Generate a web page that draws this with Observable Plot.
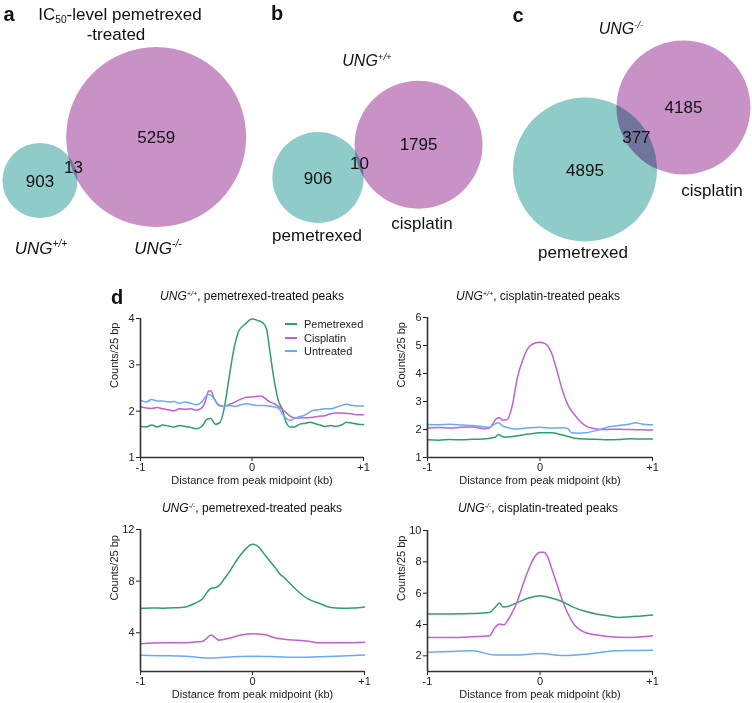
<!DOCTYPE html>
<html><head><meta charset="utf-8">
<script src="https://cdn.jsdelivr.net/npm/d3@7"></script>
<script src="https://cdn.jsdelivr.net/npm/@observablehq/plot@0.6"></script>
<style>
body{margin:0;background:#fff;}
#fig{position:relative;width:752px;height:703px;overflow:hidden;font-family:"Liberation Sans",Arial,sans-serif;color:#111;background:#fff;}
.pane{position:absolute;}
.lbl{position:absolute;transform:translate(-50%,-50%);white-space:nowrap;line-height:1;}
sup{font-size:0.6em;vertical-align:0.6em;line-height:0;}
sub{font-size:0.6em;vertical-align:-0.3em;line-height:0;}
</style></head><body><div id="fig"></div>
<script>
// ---------- Venn data ----------
const vennA_only = [903, 5259];   // UNG+/+ , UNG-/-  (IC50 pemetrexed)
const vennA_both = 13;
const vennB_only = [906, 1795];   // pemetrexed , cisplatin (UNG+/+)
const vennB_both = 10;
const vennC_only = [4895, 4185];  // pemetrexed , cisplatin (UNG-/-)
const vennC_both = 377;

// ---------- Profile data ----------
const seriesNames = ["Pemetrexed", "Cisplatin", "Untreated"];
const xTicks = [-1, 0, 1];

// UNG+/+, pemetrexed-treated peaks
const wtPem_pem = [[-1,1.67],[-0.95,1.66],[-0.9,1.70],[-0.85,1.66],[-0.8,1.70],[-0.75,1.68],[-0.7,1.66],[-0.65,1.69],[-0.6,1.67],[-0.55,1.65],[-0.5,1.62],[-0.45,1.67],[-0.4,1.83],[-0.37,1.84],[-0.33,1.72],[-0.29,1.75],[-0.25,2.05],[-0.21,2.65],[-0.16,3.37],[-0.12,3.72],[-0.06,3.88],[0,3.99],[0.05,3.96],[0.1,3.9],[0.13,3.78],[0.16,3.3],[0.2,2.65],[0.24,2.2],[0.27,2.05],[0.3,1.8],[0.34,1.66],[0.38,1.66],[0.43,1.72],[0.48,1.74],[0.52,1.76],[0.57,1.73],[0.61,1.70],[0.66,1.67],[0.7,1.69],[0.75,1.67],[0.8,1.70],[0.85,1.76],[0.9,1.74],[0.95,1.72],[1,1.71]];
const wtPem_cis = [[-1,2.09],[-0.95,2.07],[-0.9,2.06],[-0.85,2.08],[-0.8,2.05],[-0.75,2.03],[-0.7,2.01],[-0.65,2.05],[-0.6,2.04],[-0.55,2.05],[-0.5,2.02],[-0.45,2.07],[-0.42,2.2],[-0.39,2.43],[-0.37,2.44],[-0.34,2.28],[-0.3,2.14],[-0.25,2.1],[-0.2,2.15],[-0.15,2.2],[-0.1,2.26],[-0.05,2.3],[0,2.31],[0.05,2.32],[0.08,2.33],[0.12,2.27],[0.16,2.2],[0.2,2.16],[0.25,2.08],[0.3,1.98],[0.35,1.88],[0.4,1.85],[0.45,1.86],[0.5,1.86],[0.55,1.87],[0.6,1.89],[0.65,1.9],[0.7,1.94],[0.75,1.96],[0.8,1.96],[0.85,1.95],[0.9,1.94],[0.95,1.92],[1,1.92]];
const wtPem_unt = [[-1,2.24],[-0.95,2.2],[-0.9,2.25],[-0.85,2.22],[-0.8,2.22],[-0.75,2.2],[-0.7,2.21],[-0.65,2.17],[-0.6,2.2],[-0.55,2.17],[-0.5,2.14],[-0.45,2.2],[-0.42,2.3],[-0.39,2.36],[-0.36,2.33],[-0.33,2.22],[-0.3,2.12],[-0.25,2.1],[-0.2,2.12],[-0.15,2.1],[-0.1,2.14],[-0.05,2.16],[0,2.14],[0.05,2.12],[0.1,2.12],[0.15,2.11],[0.2,2.09],[0.24,2.06],[0.27,1.95],[0.3,1.86],[0.34,1.8],[0.38,1.84],[0.42,1.88],[0.46,1.9],[0.5,1.95],[0.55,2.02],[0.6,2.03],[0.65,2.05],[0.7,2.05],[0.75,2.08],[0.8,2.12],[0.85,2.15],[0.9,2.12],[0.95,2.11],[1,2.11]];

// UNG+/+, cisplatin-treated peaks
const wtCis_pem = [[-1,1.63],[-0.9,1.62],[-0.8,1.64],[-0.7,1.63],[-0.6,1.65],[-0.5,1.66],[-0.4,1.72],[-0.37,1.82],[-0.33,1.74],[-0.3,1.73],[-0.2,1.78],[-0.1,1.84],[0,1.88],[0.1,1.88],[0.2,1.8],[0.3,1.7],[0.4,1.66],[0.5,1.65],[0.6,1.63],[0.7,1.64],[0.8,1.67],[0.9,1.66],[1,1.66]];
const wtCis_cis = [[-1,2.05],[-0.9,2.07],[-0.8,2.05],[-0.7,2.08],[-0.6,2.09],[-0.5,2.03],[-0.45,2.05],[-0.42,2.2],[-0.39,2.38],[-0.36,2.42],[-0.33,2.33],[-0.29,2.36],[-0.25,2.8],[-0.2,3.87],[-0.15,4.52],[-0.1,4.94],[-0.05,5.08],[0,5.12],[0.05,5.06],[0.1,4.76],[0.15,4.11],[0.2,3.39],[0.25,2.86],[0.3,2.56],[0.35,2.32],[0.4,2.14],[0.45,2.06],[0.5,2.02],[0.6,2.0],[0.7,2.01],[0.8,2.0],[0.9,1.99],[1,1.98]];
const wtCis_unt = [[-1,2.18],[-0.9,2.17],[-0.8,2.19],[-0.7,2.16],[-0.6,2.14],[-0.5,2.1],[-0.45,2.08],[-0.4,2.2],[-0.37,2.24],[-0.33,2.12],[-0.3,2.08],[-0.2,2.02],[-0.1,2.06],[0,2.08],[0.1,2.05],[0.2,2.06],[0.25,2.03],[0.28,1.88],[0.35,1.87],[0.4,1.88],[0.5,1.96],[0.6,2.08],[0.7,2.14],[0.8,2.2],[0.85,2.24],[0.9,2.2],[1,2.17]];

// UNG-/-, pemetrexed-treated peaks
const koPem_pem = [[-1,5.9],[-0.9,5.92],[-0.8,5.9],[-0.7,5.93],[-0.6,6.0],[-0.55,6.15],[-0.5,6.34],[-0.45,6.6],[-0.4,7.2],[-0.37,7.45],[-0.33,7.5],[-0.3,7.65],[-0.25,8.2],[-0.2,8.82],[-0.15,9.5],[-0.1,10.1],[-0.05,10.6],[0,10.85],[0.05,10.7],[0.1,10.15],[0.15,9.6],[0.2,9.08],[0.25,8.5],[0.28,8.3],[0.32,7.95],[0.4,7.26],[0.5,6.6],[0.6,6.27],[0.7,5.95],[0.8,5.9],[0.9,5.92],[1,6.0]];
const koPem_cis = [[-1,3.14],[-0.8,3.22],[-0.6,3.22],[-0.5,3.3],[-0.45,3.32],[-0.42,3.48],[-0.37,3.82],[-0.33,3.6],[-0.3,3.42],[-0.2,3.6],[-0.1,3.82],[0,3.92],[0.1,3.87],[0.2,3.62],[0.3,3.48],[0.4,3.43],[0.5,3.35],[0.6,3.22],[0.8,3.22],[1,3.27]];
const koPem_unt = [[-1,2.25],[-0.8,2.22],[-0.6,2.18],[-0.4,2.05],[-0.2,2.13],[0,2.18],[0.2,2.15],[0.4,2.1],[0.6,2.15],[0.8,2.2],[1,2.28]];

// UNG-/-, cisplatin-treated peaks
const koCis_pem = [[-1,4.67],[-0.8,4.67],[-0.6,4.7],[-0.45,4.77],[-0.4,5.09],[-0.36,5.37],[-0.33,5.12],[-0.3,5.13],[-0.2,5.41],[-0.1,5.69],[0,5.84],[0.1,5.69],[0.2,5.45],[0.3,5.09],[0.4,4.84],[0.5,4.67],[0.6,4.56],[0.7,4.45],[0.8,4.49],[0.9,4.55],[1,4.6]];
const koCis_cis = [[-1,3.17],[-0.8,3.17],[-0.6,3.22],[-0.45,3.28],[-0.4,3.81],[-0.36,4.03],[-0.32,3.98],[-0.28,4.35],[-0.2,5.52],[-0.15,6.58],[-0.1,7.54],[-0.05,8.29],[0,8.61],[0.03,8.61],[0.07,8.29],[0.1,7.65],[0.15,6.58],[0.2,5.52],[0.25,4.67],[0.3,4.03],[0.4,3.49],[0.5,3.34],[0.6,3.24],[0.8,3.17],[1,3.28]];
const koCis_unt = [[-1,2.23],[-0.8,2.28],[-0.6,2.32],[-0.4,2.06],[-0.2,2.06],[0,2.15],[0.2,2.02],[0.4,2.1],[0.6,2.28],[0.8,2.34],[1,2.36]];

// ---------- styles ----------
const TEAL = "#8fcbc9", PINK = "#c992c7";
const seriesColors = ["#2f9e6e", "#c15fd3", "#6aaaf2"];
const FONT = '"Liberation Sans", Arial, sans-serif';

const fig = document.getElementById("fig");
function addLabel(html, x, y, style = "") {
  const d = document.createElement("div");
  d.className = "lbl";
  d.style.cssText = `left:${x}px;top:${y}px;${style}`;
  d.innerHTML = html;
  fig.appendChild(d);
}
function addPane(node, left, top, w, h) {
  const d = document.createElement("div");
  d.className = "pane";
  d.style.cssText = `left:${left}px;top:${top}px;width:${w}px;height:${h}px;`;
  d.appendChild(node);
  fig.appendChild(d);
}

// ---------- Venn ----------
function lens(r1, r2, d) {
  if (d >= r1 + r2) return 0;
  if (d <= Math.abs(r1 - r2)) return Math.PI * Math.min(r1, r2) ** 2;
  const a1 = r1 * r1 * Math.acos((d * d + r1 * r1 - r2 * r2) / (2 * d * r1));
  const a2 = r2 * r2 * Math.acos((d * d + r2 * r2 - r1 * r1) / (2 * d * r2));
  const a3 = 0.5 * Math.sqrt((-d + r1 + r2) * (d + r1 - r2) * (d - r1 + r2) * (d + r1 + r2));
  return a1 + a2 - a3;
}
const W = 752, H = 290;
function venn(only, both, c1, angleDeg, rmax) {
  const tot = [only[0] + both, only[1] + both];
  const maxT = Math.max(...tot);
  const k = Math.PI * rmax * rmax / maxT;
  const r = tot.map(t => rmax * Math.sqrt(t / maxT));
  const target = k * both;
  let lo = Math.abs(r[0] - r[1]), hi = r[0] + r[1];
  for (let i = 0; i < 80; i++) {
    const mid = (lo + hi) / 2;
    if (lens(r[0], r[1], mid) > target) lo = mid; else hi = mid;
  }
  const d = (lo + hi) / 2;
  const a = angleDeg * Math.PI / 180, ux = Math.cos(a), uy = Math.sin(a);
  const c2 = [c1[0] + d * ux, c1[1] + d * uy];
  const m = (d - r[1] + r[0]) / 2;
  const texts = [
    {x: c1[0], y: c1[1] + 1, t: String(only[0])},
    {x: c2[0], y: c2[1], t: String(only[1])},
    {x: c1[0] + m * ux, y: c1[1] + m * uy, t: String(both)}
  ];
  const svg = Plot.plot({
    width: W, height: H, margin: 0,
    style: {background: "transparent", fontFamily: FONT, overflow: "visible"},
    x: {domain: [0, W], range: [0, W], axis: null},
    y: {domain: [0, H], range: [0, H], axis: null},
    r: {type: "sqrt", domain: [0, maxT], range: [0, rmax]},
    marks: [
      Plot.dot([{cx: c1[0], cy: c1[1], total: tot[0]}], {x: "cx", y: "cy", r: "total", fill: TEAL, stroke: "none", mixBlendMode: "multiply"}),
      Plot.dot([{cx: c2[0], cy: c2[1], total: tot[1]}], {x: "cx", y: "cy", r: "total", fill: PINK, stroke: "none", mixBlendMode: "multiply"}),
      Plot.text(texts, {x: "x", y: "y", text: "t", fontSize: 17, fill: "#111"})
    ]
  });
  addPane(svg, 0, 0, W, H);
}
venn(vennA_only, vennA_both, [39.5, 180], -20.5, 90);
venn(vennB_only, vennB_both, [317.5, 177], -18.1, 64);
venn(vennC_only, vennC_both, [584.5, 169], -32.2, 72);

// Venn labels
const ungWT = '<i>UNG</i><sup><i>+/+</i></sup>';
const ungKO = '<i>UNG</i><sup><i>-/-</i></sup>';
addLabel("a", 9, 14, "font-size:20px;font-weight:bold;");
addLabel("b", 277, 13, "font-size:20px;font-weight:bold;");
addLabel("c", 518, 15, "font-size:20px;font-weight:bold;");
addLabel("IC<sub>50</sub>-level pemetrexed", 120, 14, "font-size:17px;");
addLabel("-treated", 116, 34, "font-size:17px;");
addLabel(ungWT, 41, 248, "font-size:17px;");
addLabel(ungKO, 158, 248, "font-size:17px;");
addLabel(ungWT, 367, 61, "font-size:16px;");
addLabel("pemetrexed", 317, 235, "font-size:17px;");
addLabel("cisplatin", 422, 223, "font-size:17px;");
addLabel(ungKO, 621, 29, "font-size:16px;");
addLabel("cisplatin", 712, 190, "font-size:17px;");
addLabel("pemetrexed", 583, 252, "font-size:17px;");

// ---------- Profiles ----------
function profile(series, yDomain, yTicks, left, top, width, height, m) {
  const rows = [];
  series.forEach((arr, i) => arr.forEach(([x, y]) => rows.push({x, y, s: seriesNames[i]})));
  const svg = Plot.plot({
    width, height,
    marginLeft: m[0], marginRight: m[1], marginTop: m[2], marginBottom: m[3],
    style: {background: "transparent", fontFamily: FONT, fontSize: "11px", color: "#222", overflow: "visible"},
    x: {domain: [-1, 1], ticks: xTicks, tickFormat: v => v > 0 ? "+" + v : String(v), tickSize: 4, tickPadding: 2, label: null},
    y: {domain: yDomain, ticks: yTicks, tickFormat: v => String(v), tickSize: 4, tickPadding: 2, label: null},
    color: {domain: seriesNames, range: seriesColors},
    marks: [
      Plot.line(rows, {x: "x", y: "y", z: "s", stroke: "s", strokeWidth: 1.5, curve: "monotone-x"}),
      Plot.ruleX([-1], {stroke: "#333", strokeWidth: 1.6}),
      Plot.ruleY([yDomain[0]], {stroke: "#333", strokeWidth: 1.6}),
      Plot.text(["Distance from peak midpoint (kb)"], {frameAnchor: "bottom", dy: 26, fontSize: 11, fill: "#222"}),
      Plot.text(["Counts/25 bp"], {frameAnchor: "left", rotate: -90, dx: -26, fontSize: 11, fill: "#222"})
    ]
  });
  addPane(svg, left, top, width, height);
}
profile([wtPem_pem, wtPem_cis, wtPem_unt], [1, 4], [1, 2, 3, 4], 100, 305, 290, 190, [40, 27, 13, 38]);
profile([wtCis_pem, wtCis_cis, wtCis_unt], [1, 6], [1, 2, 3, 4, 5, 6], 380, 305, 290, 190, [47, 18, 12, 38]);
profile([koPem_pem, koPem_cis, koPem_unt], [1, 12], [4, 8, 12], 100, 515, 290, 188, [40, 26, 14, 32]);
profile([koCis_pem, koCis_cis, koCis_unt], [1, 10], [2, 4, 6, 8, 10], 380, 515, 290, 188, [47, 18, 15, 32]);

addLabel("d", 117, 297, "font-size:20px;font-weight:bold;");
addLabel(ungWT + ", pemetrexed-treated peaks", 252, 296, "font-size:12px;");
addLabel(ungWT + ", cisplatin-treated peaks", 538, 296, "font-size:12px;");
addLabel(ungKO + ", pemetrexed-treated peaks", 252, 508, "font-size:12px;");
addLabel(ungKO + ", cisplatin-treated peaks", 538, 508, "font-size:12px;");

// legend
seriesNames.forEach((n, i) => {
  const y = [324, 338, 351][i];
  const ln = document.createElement("div");
  ln.style.cssText = `position:absolute;left:285px;top:${y - 1}px;width:12px;height:2px;background:${seriesColors[i]};`;
  fig.appendChild(ln);
  const t = document.createElement("div");
  t.style.cssText = `position:absolute;left:304px;top:${y - 7}px;font-size:11px;line-height:14px;white-space:nowrap;color:#222;`;
  t.textContent = n;
  fig.appendChild(t);
});
</script></body></html>
